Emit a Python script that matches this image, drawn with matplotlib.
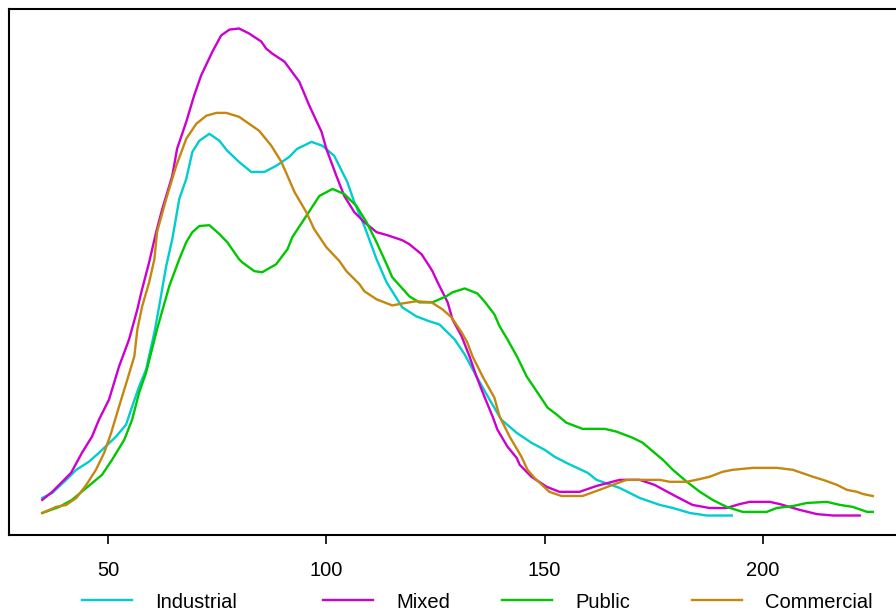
import matplotlib.pyplot as plt
from matplotlib.lines import Line2D

plt.rcParams['font.family'] = ['Liberation Sans', 'DejaVu Sans']

# density curves (y in units of 1e-3)
series = ['Industrial', 'Mixed', 'Public', 'Commercial']
colors = ['#00CDCD', '#CD00CD', '#00C800', '#C4870F']

x_ind = [34.9, 37.2, 40.4, 42.7, 45.6, 47.9, 51.8, 54.1, 55.5, 57.1, 58.7, 60.6, 61.7,
         63.3, 64.7, 66.3, 67.9, 69.3, 70.9, 73.2, 75.5, 77.3, 80.0, 82.8, 85.8, 88.5,
         91.5, 93.3, 96.6, 99.1, 101.8, 104.8, 106.4, 108.7, 111.5, 113.8, 117.4, 120.6,
         123.6, 125.9, 129.4, 131.7, 134.4, 137.4, 140.1, 143.6, 147.0, 150.0, 152.3,
         155.0, 159.9, 161.9, 167.2, 171.8, 176.4, 179.4, 183.3, 187.2, 192.9]
y_ind = [0.63, 0.81, 1.28, 1.64, 1.93, 2.25, 2.83, 3.26, 3.91, 4.63, 5.24, 6.57, 7.51,
         8.95, 9.92, 11.36, 12.08, 13.05, 13.45, 13.70, 13.45, 13.09, 12.69, 12.33, 12.33,
         12.55, 12.87, 13.16, 13.41, 13.27, 12.91, 11.97, 11.25, 10.39, 9.20, 8.37, 7.47,
         7.15, 6.97, 6.86, 6.32, 5.78, 4.99, 4.16, 3.44, 2.97, 2.61, 2.36, 2.11, 1.89,
         1.53, 1.28, 0.99, 0.63, 0.38, 0.27, 0.09, 0.0, 0.0]

x_mix = [34.9, 37.2, 41.5, 44.0, 46.3, 47.9, 50.2, 52.5, 54.8, 56.7, 57.6, 59.4, 61.0,
         62.4, 64.7, 65.8, 67.9, 69.7, 71.3, 73.9, 75.9, 77.8, 80.0, 82.3, 85.1, 86.2,
         87.6, 90.4, 93.8, 96.1, 98.9, 100.0, 102.3, 104.1, 106.4, 108.7, 111.5, 114.0,
         117.4, 119.0, 121.8, 123.6, 124.3, 125.5, 127.8, 128.9, 131.0, 132.8, 134.4,
         136.2, 138.1, 139.2, 141.5, 143.6, 144.3, 147.0, 150.5, 153.4, 158.0, 161.9,
         167.2, 171.8, 175.2, 180.3, 183.9, 187.8, 191.7, 194.7, 197.0, 201.6, 203.9,
         208.5, 212.4, 216.1, 222.2]
y_mix = [0.56, 0.85, 1.53, 2.25, 2.83, 3.44, 4.16, 5.35, 6.32, 7.40, 8.01, 9.09, 10.17,
         11.00, 12.19, 13.16, 14.13, 15.07, 15.79, 16.65, 17.23, 17.44, 17.48, 17.30,
         17.01, 16.76, 16.58, 16.29, 15.57, 14.71, 13.77, 13.16, 12.19, 11.47, 10.89,
         10.53, 10.17, 10.06, 9.88, 9.74, 9.38, 8.95, 8.77, 8.37, 7.65, 7.04, 6.43, 5.71,
         4.99, 4.27, 3.55, 3.08, 2.47, 2.07, 1.82, 1.39, 1.03, 0.85, 0.85, 1.06, 1.28,
         1.28, 1.10, 0.67, 0.38, 0.27, 0.27, 0.41, 0.49, 0.49, 0.41, 0.20, 0.05, 0.0, 0.0]

x_pub = [34.9, 38.8, 41.7, 45.0, 48.6, 50.9, 53.7, 55.5, 57.1, 58.7, 61.2, 64.0, 66.3,
         67.9, 69.3, 70.9, 73.2, 75.5, 77.3, 80.0, 80.7, 83.5, 85.3, 88.5, 91.1, 92.2,
         95.4, 98.4, 101.4, 104.1, 106.9, 109.2, 111.5, 114.0, 115.1, 119.0, 121.3, 124.3,
         127.5, 128.9, 131.7, 134.6, 136.2, 138.5, 139.7, 141.5, 143.8, 145.9, 148.4,
         150.7, 152.8, 155.0, 158.7, 163.8, 166.5, 170.2, 172.5, 175.2, 177.1, 179.4,
         182.6, 185.6, 188.5, 191.7, 195.4, 200.9, 203.2, 206.9, 210.1, 214.7, 217.7,
         220.6, 223.9, 225.2]
y_pub = [0.09, 0.31, 0.56, 0.99, 1.46, 2.00, 2.72, 3.44, 4.41, 5.13, 6.68, 8.23, 9.20,
         9.81, 10.17, 10.39, 10.42, 10.10, 9.81, 9.20, 9.09, 8.77, 8.73, 9.02, 9.56, 9.99,
         10.75, 11.47, 11.72, 11.54, 11.11, 10.53, 9.81, 8.95, 8.55, 7.87, 7.65, 7.65,
         7.87, 8.01, 8.15, 7.97, 7.69, 7.22, 6.79, 6.32, 5.67, 4.99, 4.41, 3.87, 3.62,
         3.33, 3.11, 3.11, 3.01, 2.79, 2.61, 2.25, 2.00, 1.64, 1.21, 0.85, 0.56, 0.31,
         0.13, 0.13, 0.27, 0.34, 0.45, 0.49, 0.38, 0.31, 0.13, 0.13]

x_com = [34.9, 38.1, 40.4, 42.7, 45.0, 47.2, 49.1, 50.7, 52.5, 54.4, 56.0, 56.7, 57.8,
         59.4, 60.6, 61.2, 63.3, 65.6, 67.9, 70.2, 72.5, 74.8, 77.1, 80.0, 84.6, 87.4,
         89.7, 91.1, 92.7, 95.4, 97.2, 100.0, 103.0, 104.6, 107.6, 108.7, 111.5, 115.1,
         117.4, 120.6, 124.1, 126.6, 128.7, 131.0, 132.3, 133.5, 135.8, 138.5, 139.7,
         142.0, 144.7, 146.1, 147.7, 151.1, 153.9, 158.7, 163.1, 165.6, 168.8, 176.4,
         178.7, 182.6, 185.6, 187.8, 190.8, 193.1, 197.7, 203.2, 206.9, 211.5, 213.8,
         217.0, 219.3, 221.6, 223.0, 225.2]
y_com = [0.09, 0.31, 0.38, 0.63, 1.10, 1.64, 2.25, 2.97, 3.91, 4.88, 5.71, 6.68, 7.51,
         8.37, 9.20, 10.17, 11.36, 12.55, 13.52, 14.06, 14.35, 14.45, 14.45, 14.31, 13.81,
         13.27, 12.69, 12.19, 11.61, 10.89, 10.28, 9.63, 9.13, 8.77, 8.30, 8.05, 7.76,
         7.54, 7.61, 7.69, 7.65, 7.40, 7.11, 6.57, 6.21, 5.71, 4.99, 4.23, 3.55, 2.83,
         2.11, 1.64, 1.35, 0.85, 0.70, 0.70, 0.95, 1.10, 1.28, 1.28, 1.21, 1.21, 1.31,
         1.39, 1.57, 1.64, 1.71, 1.71, 1.64, 1.39, 1.28, 1.10, 0.92, 0.85, 0.77, 0.70]

x_ticks = [50, 100, 150, 200]

xs = [x_ind, x_mix, x_pub, x_com]
ys = [y_ind, y_mix, y_pub, y_com]

W, H = 896, 612
fig = plt.figure(figsize=(W / 100, H / 100), dpi=100)
# axes box: left edge at px 9, top px 9, bottom px 535, right runs past the figure
ax = fig.add_axes([9 / W, 77 / H, 897 / W, 526 / H])

for x, y, c, name in zip(xs, ys, colors, series):
    ax.plot(x, [v / 1000 for v in y], color=c, lw=1.7, label=name)

# R style 4% padding
all_x = [v for x in xs for v in x]
all_y = [v / 1000 for y in ys for v in y]
xr = max(all_x) - min(all_x)
yr = max(all_y) - min(all_y)
ax.set_xlim(min(all_x) - 0.04 * xr, max(all_x) + 0.04 * xr)
ax.set_ylim(min(all_y) - 0.04 * yr, max(all_y) + 0.04 * yr)

ax.set_xticks(x_ticks)
ax.set_xticklabels([str(t) for t in x_ticks])
ax.set_yticks([])
ax.tick_params(axis='x', direction='out', length=6.5, width=1.2, pad=12,
               labelsize=14.5)
for s in ax.spines.values():
    s.set_linewidth(1.5)

# legend along the bottom, drawn by hand
handle_x = [82, 323, 502, 692]
for hx, c, name in zip(handle_x, colors, series):
    fig.add_artist(Line2D([hx / W, (hx + 50) / W], [(H - 600) / H, (H - 600) / H],
                          color=c, lw=1.7, transform=fig.transFigure))
    fig.text((hx + 73) / W, (H - 603) / H, name, fontsize=14.5,
             ha='left', va='center')

fig.savefig('out.png', dpi=100)
